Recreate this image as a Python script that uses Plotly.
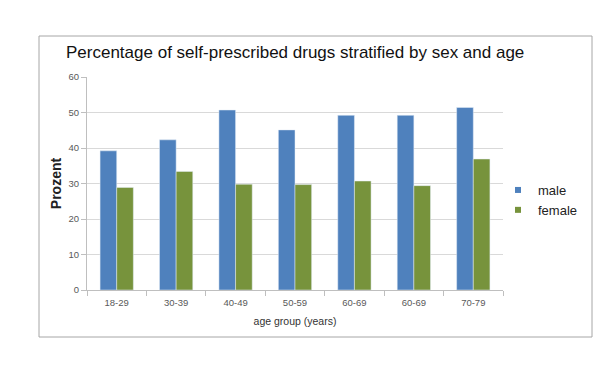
import plotly.graph_objects as go

categories = ["18-29", "30-39", "40-49", "50-59", "60-69", "60-69", "70-79"]
male = [39.2, 42.3, 50.7, 45.1, 49.2, 49.2, 51.4]
female = [28.9, 33.4, 29.8, 29.7, 30.7, 29.4, 36.9]
y_ticks = [0, 10, 20, 30, 40, 50, 60]
series_names = ["male", "female"]
series_colors = ["#4F81BD", "#77933C"]

pos = list(range(len(categories)))

fig = go.Figure()
for name, vals, col in zip(series_names, [male, female], series_colors):
    fig.add_trace(go.Bar(x=pos, y=vals, name=name, marker_color=col,
                         showlegend=False, legendgroup=name))
for name, col in zip(series_names, series_colors):
    fig.add_trace(go.Scatter(x=[None], y=[None], mode="markers", name=name,
                             legendgroup=name,
                             marker=dict(symbol="square", size=6, color=col)))

L, R, T, B = 87, 97, 77, 100
W, H = 600, 390
pw = W - L - R
ph = H - T - B

def px_x(x):
    return (x - L) / pw

def px_y(y):
    return (H - B - y) / ph

fig.update_layout(
    width=W, height=H,
    margin=dict(l=L, r=R, t=T, b=B, autoexpand=False),
    paper_bgcolor="white", plot_bgcolor="white",
    barmode="group", bargap=0.44, bargroupgap=0,
    font=dict(family="Liberation Sans, Arial, sans-serif", color="#404040"),
    title=dict(text="Percentage of self-prescribed drugs stratified by sex and age",
               font=dict(size=17, color="#111111", family="Liberation Sans, Arial, sans-serif"),
               xref="container", x=66 / W, xanchor="left",
               yref="container", y=1 - 52 / H, yanchor="middle"),
    legend=dict(xref="container", yref="container", x=498 / W, y=1 - 200 / H,
                xanchor="left", yanchor="middle",
                font=dict(size=13, color="#222222"), bgcolor="rgba(0,0,0,0)",
                itemwidth=30, tracegroupgap=0),
    xaxis=dict(
        tickmode="array", tickvals=pos, ticktext=categories,
        range=[-0.5, len(categories) - 0.5],
        showgrid=False, showline=True, linecolor="#BFBFBF", linewidth=1,
        ticks="", tickfont=dict(size=9.5, color="#595959"), ticklabelstandoff=4,
        minor=dict(tickmode="array", tickvals=[p - 0.5 for p in pos] + [len(pos) - 0.5],
                   ticks="outside", ticklen=5, tickcolor="#BFBFBF", showgrid=False),
        title=dict(text="age group (years)", font=dict(size=10.5, color="#333333"), standoff=10),
        zeroline=False, fixedrange=True, automargin=False,
    ),
    yaxis=dict(
        range=[0, 60], tickvals=y_ticks, showgrid=True, gridcolor="#D9D9D9", gridwidth=1,
        showline=True, linecolor="#BFBFBF", linewidth=1,
        ticks="outside", ticklen=5, tickcolor="#BFBFBF",
        tickfont=dict(size=9.5, color="#595959"),
        title=dict(text="<b>Prozent</b>", font=dict(size=14, color="#222222"), standoff=3),
        zeroline=False, fixedrange=True, automargin=False,
    ),
    shapes=[dict(type="rect", xref="paper", yref="paper",
                 x0=px_x(39), x1=px_x(592), y0=px_y(337), y1=px_y(36),
                 line=dict(color="#A6A6A6", width=1), fillcolor="rgba(0,0,0,0)", layer="below")],
)

fig.write_html("out.html", config={"displayModeBar": False},
               post_script="document.body.style.margin='0';")
